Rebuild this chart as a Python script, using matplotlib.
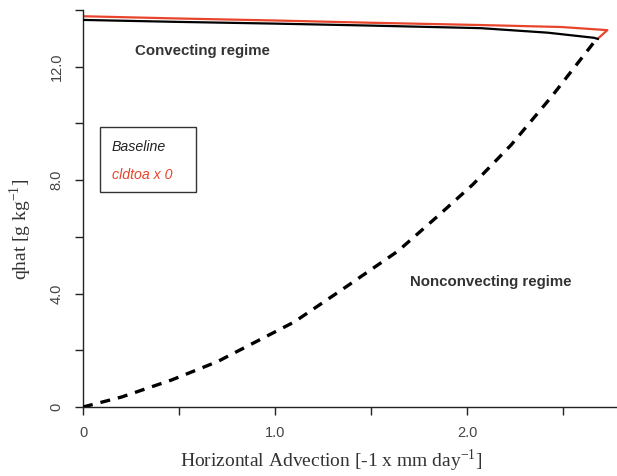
import matplotlib
matplotlib.use("Agg")
import matplotlib.pyplot as plt
from matplotlib.patches import Rectangle

# upper (convecting) branch, baseline run
base_x = [0.0, 0.5, 1.0, 1.5, 2.07, 2.42, 2.66, 2.68]
base_y = [13.65, 13.58, 13.52, 13.45, 13.36, 13.2, 13.02, 12.98]

# upper branch with cloud radiative effect switched off
cld_x = [0.0, 0.5, 1.0, 1.5, 2.07, 2.49, 2.73, 2.68]
cld_y = [13.78, 13.7, 13.63, 13.55, 13.47, 13.4, 13.29, 12.99]

# lower (nonconvecting) branch
nc_x = [0.0, 0.2, 0.46, 0.70, 0.92, 1.10, 1.34, 1.64, 1.85, 2.03, 2.23, 2.44, 2.66, 2.68]
nc_y = [0.0, 0.35, 0.95, 1.6, 2.37, 3.0, 4.1, 5.5, 6.75, 7.85, 9.25, 10.95, 12.86, 12.98]

xticks = [0, 0.5, 1.0, 1.5, 2.0, 2.5]
xlabels = ["0", "", "1.0", "", "2.0", ""]
yticks = [0, 2, 4, 6, 8, 10, 12, 14]
ylabels = ["0", "", "4.0", "", "8.0", "", "12.0", ""]

legend_labels = ["Baseline", "cldtoa x 0"]

red = "#e8452c"
grey = "#444444"

fig = plt.figure(figsize=(6.17, 4.76), dpi=100)
ax = fig.add_axes([83 / 617, 69 / 476, 1 - 83 / 617, 397 / 476])

ax.plot(cld_x, cld_y, color=red, lw=1.6, zorder=2)
ax.plot(base_x, base_y, color="black", lw=1.6, zorder=3)
ax.plot(nc_x, nc_y, color="black", lw=2.4, ls=(0, (3.0, 2.4)), zorder=3)

ax.set_xlim(0, 2.78)
ax.set_ylim(0, 14)
for s in ["top", "right"]:
    ax.spines[s].set_visible(False)
for s in ["left", "bottom"]:
    ax.spines[s].set_color("#222222")
    ax.spines[s].set_linewidth(1.0)

ax.set_xticks(xticks)
ax.set_xticklabels(xlabels)
ax.set_yticks(yticks)
ax.set_yticklabels(ylabels, rotation=90, va="center")
ax.tick_params(direction="out", length=6, width=1.0, color="#222222",
               labelsize=10.5, labelcolor=grey, pad=8)
for t in ax.get_xticklabels() + ax.get_yticklabels():
    t.set_family("Liberation Sans")

ax.set_xlabel("Horizontal Advection [-1 x mm day$^{\\mathregular{-1}}$]",
              family="Liberation Serif", fontsize=14, color="#333333")
ax.set_ylabel("qhat [g kg$^{\\mathregular{-1}}$]",
              family="Liberation Serif", fontsize=14, color="#333333")
ax.xaxis.set_label_coords(0.464, -0.103)
ax.yaxis.set_label_coords(-0.092, 0.448)

ax.text(0.27, 12.55, "Convecting regime", family="Liberation Sans",
        fontweight="bold", fontsize=10.8, color="#333333", va="center")
ax.text(1.70, 4.42, "Nonconvecting regime", family="Liberation Sans",
        fontweight="bold", fontsize=10.8, color="#333333", va="center")

# legend box drawn like the original (text only, no line samples)
ax.add_patch(Rectangle((0.0318, 0.5416), 0.18, 0.1637, transform=ax.transAxes,
                       fill=False, edgecolor="#333333", lw=1.0, zorder=4))
for lab, col, yy in zip(legend_labels, ["#222222", red], [0.655, 0.584]):
    ax.text(0.0543, yy, lab, transform=ax.transAxes, family="Liberation Sans",
            style="italic", fontsize=10.2, color=col, va="center", zorder=5)

fig.savefig("out.png", dpi=100)
